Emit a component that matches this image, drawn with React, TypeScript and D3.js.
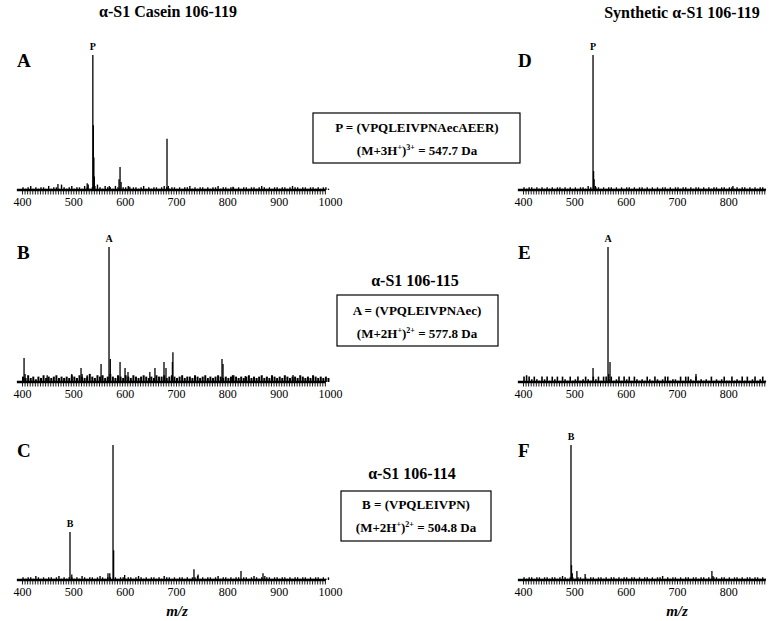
import * as d3 from 'd3'
import { useEffect, useRef } from 'react'

const W = 779
const H = 621
const SERIF = '"Liberation Serif", "Times New Roman", serif'

// peaks: [m/z, % of tallest peak in the panel]
const peaksA: [number, number][] = [
  [538, 100], [539, 48], [540, 24], [541, 10], [470, 4.4], [527, 5], [529, 4],
  [570, 3], [589, 8], [591, 17], [593, 6], [610, 2.5], [682.5, 38], [685, 3], [811, 2.5],
]
const peaksB: [number, number][] = [
  [569.5, 100], [572, 17], [404, 17.8], [406, 6], [449, 5], [497, 6], [515, 10.4],
  [517, 6], [527, 5], [554, 13.3], [591, 14.8], [600.7, 10.4], [606.5, 7.4], [649, 7.4],
  [659, 10.4], [676.6, 14.8], [680.5, 10.4], [693, 14.8], [694, 22], [789.6, 17],
  [791.6, 13.3], [810, 5], [835, 4.5], [928, 5.2],
]
const peaksC: [number, number][] = [
  [577.3, 100], [578.5, 22], [493.5, 35.5], [497, 4], [567.5, 5], [571, 5], [600, 3.7],
  [735, 8], [743, 4], [826.6, 6.7], [869.5, 5], [873, 3],
]
const peaksD: [number, number][] = [
  [536.4, 100], [537.5, 14], [538.5, 8], [541, 3], [809, 3],
]
const peaksE: [number, number][] = [
  [565.6, 100], [567, 6], [569.5, 14.8], [536.4, 10.4], [737, 6],
]
const peaksF: [number, number][] = [
  [493.5, 100], [494.5, 11], [496, 5], [505, 6.7], [521, 4.5], [768, 6.7], [770, 3],
]

// baseline noise, one value every 5 m/z from 400
const noiseA = [
  2, 1, 2, 3, 1, 2, 1, 2, 2, 1, 3, 1, 2, 2, 1, 4, 2, 1, 2, 3, 1, 2, 2, 1, 3, 2, 1, 2, 3, 4,
  2, 1, 3, 2, 2, 1, 3, 2, 1, 2, 2, 3, 1, 2, 2, 1, 2, 3, 1, 2, 1, 2, 2, 1, 2, 3, 2, 1, 2, 2,
  1, 2, 1, 2, 2, 3, 1, 2, 1, 2, 2, 1, 2, 1, 2, 2, 3, 1, 2, 2, 1, 2, 2, 1, 2, 1, 2, 2, 1, 2,
  2, 1, 2, 3, 2, 1, 2, 1, 2, 2, 1, 2, 2, 1, 2, 3, 2, 2, 1, 2, 2, 1, 2, 2, 1, 2, 1, 2, 2, 1,
]
const noiseB = [
  4, 3, 5, 3, 4, 2, 4, 3, 5, 3, 4, 3, 4, 5, 3, 4, 3, 4, 3, 5, 4, 3, 5, 4, 3, 4, 6, 4, 3, 5,
  4, 5, 3, 4, 6, 4, 3, 5, 4, 3, 5, 4, 3, 5, 4, 3, 4, 5, 4, 3, 4, 3, 5, 4, 4, 5, 3, 4, 5, 4,
  3, 4, 5, 3, 4, 4, 3, 5, 4, 3, 4, 5, 3, 4, 3, 4, 5, 4, 3, 4, 3, 4, 5, 4, 3, 4, 3, 4, 5, 3,
  4, 3, 4, 5, 3, 4, 3, 5, 4, 3, 4, 3, 5, 4, 3, 4, 4, 3, 5, 4, 3, 4, 3, 5, 4, 3, 4, 3, 4, 3,
]
const noiseC = [
  2, 1, 2, 2, 1, 3, 2, 1, 2, 1, 2, 2, 1, 2, 3, 1, 2, 1, 2, 2, 1, 2, 1, 3, 2, 1, 2, 2, 1, 2,
  3, 2, 1, 2, 2, 1, 2, 1, 2, 2, 1, 2, 2, 1, 2, 3, 2, 1, 2, 1, 2, 2, 1, 2, 1, 3, 2, 2, 1, 2,
  1, 2, 2, 1, 2, 1, 2, 2, 3, 1, 2, 1, 2, 2, 1, 2, 3, 1, 2, 2, 1, 2, 1, 2, 2, 1, 2, 2, 1, 2,
  3, 2, 1, 2, 1, 2, 2, 1, 2, 2, 1, 2, 2, 1, 2, 1, 2, 2, 1, 2, 2, 1, 2, 1, 2, 2, 1, 2, 1, 2,
]
const noiseD = [
  2, 1, 2, 2, 1, 2, 1, 2, 1, 2, 1, 2, 1, 2, 2, 1, 2, 1, 2, 1, 2, 1, 2, 2, 1, 3, 2, 1, 2, 2,
  1, 2, 1, 2, 2, 1, 2, 1, 2, 1, 2, 2, 1, 2, 1, 2, 2, 1, 2, 1, 2, 1, 2, 1, 2, 2, 1, 2, 1, 2,
  2, 1, 2, 2, 1, 2, 1, 2, 2, 1, 2, 1, 2, 1, 2, 2, 1, 2, 2, 1, 2, 2, 1, 2, 1, 2, 2, 1, 2, 1,
  2, 1, 2, 2, 1,
]
const noiseE = [
  4, 5, 4, 2, 4, 2, 1, 4, 2, 4, 1, 4, 2, 4, 1, 4, 2, 1, 4, 1, 2, 4, 1, 2, 4, 2, 1, 4, 2, 4,
  1, 4, 4, 2, 4, 1, 2, 4, 1, 4, 2, 4, 1, 4, 2, 1, 2, 1, 4, 2, 1, 4, 2, 1, 2, 4, 4, 1, 2, 2,
  1, 4, 1, 4, 4, 2, 1, 4, 1, 2, 1, 2, 1, 4, 1, 2, 1, 2, 4, 1, 1, 4, 1, 2, 1, 4, 1, 4, 1, 2,
  4, 1, 2, 4, 1,
]
const noiseF = [
  2, 1, 2, 2, 1, 2, 2, 1, 2, 2, 1, 2, 2, 1, 2, 3, 2, 1, 2, 2, 1, 2, 2, 1, 2, 1, 2, 2, 1, 2,
  2, 1, 2, 1, 2, 2, 1, 2, 1, 2, 2, 1, 2, 2, 1, 2, 1, 2, 2, 1, 2, 1, 2, 2, 3, 1, 2, 1, 2, 2,
  1, 2, 1, 2, 2, 1, 2, 2, 1, 2, 2, 1, 2, 1, 2, 2, 1, 2, 2, 1, 2, 1, 2, 2, 1, 2, 1, 2, 2, 1,
  2, 2, 1, 2, 1,
]

const ticksLeft = [400, 500, 600, 700, 800, 900, 1000]
const ticksRight = [400, 500, 600, 700, 800]

const panels = [
  { letter: 'A', peaks: peaksA, noise: noiseA, ticks: ticksLeft, end: 992, dx: 0, base: 190, tag: 'P', nw: 1.4 },
  { letter: 'B', peaks: peaksB, noise: noiseB, ticks: ticksLeft, end: 992, dx: 0, base: 382, tag: 'A', nw: 2 },
  { letter: 'C', peaks: peaksC, noise: noiseC, ticks: ticksLeft, end: 992, dx: 0, base: 580, tag: 'B', tagMz: 493.5, nw: 1.4 },
  { letter: 'D', peaks: peaksD, noise: noiseD, ticks: ticksRight, end: 873, dx: 501, base: 190, tag: 'P', nw: 1.4 },
  { letter: 'E', peaks: peaksE, noise: noiseE, ticks: ticksRight, end: 873, dx: 501, base: 382, tag: 'A', nw: 1.6 },
  { letter: 'F', peaks: peaksF, noise: noiseF, ticks: ticksRight, end: 873, dx: 501, base: 580, tag: 'B', nw: 1.4 },
]

export default function App() {
  const ref = useRef<SVGGElement>(null)

  useEffect(() => {
    const root = d3.select(ref.current)
    root.selectAll('*').remove()

    panels.forEach(p => {
      const x = d3.scaleLinear().domain([400, 1000]).range([22 + p.dx, 330 + p.dx])
      const y = d3.scaleLinear().domain([0, 100]).range([p.base, p.base - 135])
      const g = root.append('g')

      const noise = p.noise.map((v, i) => [400 + i * 5 + 2, v] as [number, number])
      g.selectAll('line.noise')
        .data(noise)
        .join('line')
        .attr('class', 'noise')
        .attr('x1', d => x(d[0]))
        .attr('x2', d => x(d[0]))
        .attr('y1', y(0))
        .attr('y2', d => y(d[1]))
        .attr('stroke', '#000')
        .attr('stroke-width', p.nw)

      g.selectAll('line.stick')
        .data(p.peaks)
        .join('line')
        .attr('class', 'stick')
        .attr('x1', d => x(d[0]))
        .attr('x2', d => x(d[0]))
        .attr('y1', y(0))
        .attr('y2', d => y(d[1]))
        .attr('stroke', '#000')
        .attr('stroke-width', 1.3)

      // minor tick comb under the baseline
      const minor = g.append('g')
        .attr('transform', `translate(0,${p.base + 1})`)
        .call(d3.axisBottom(x).tickValues(d3.range(400, p.end, 5)).tickSize(3.5).tickFormat(() => ''))
      minor.select('.domain').remove()
      minor.selectAll('line').attr('stroke', '#000').attr('stroke-width', 0.9)

      g.append('line')
        .attr('x1', x(390)).attr('x2', x(p.end))
        .attr('y1', p.base).attr('y2', p.base)
        .attr('stroke', '#000').attr('stroke-width', 2.5)

      const labels = g.append('g')
        .attr('transform', `translate(0,${p.base})`)
        .call(d3.axisBottom(x).tickValues(p.ticks).tickSize(0).tickPadding(7).tickFormat(d3.format('d')))
      labels.select('.domain').remove()
      labels.attr('font-family', SERIF).attr('font-size', 12)
      labels.selectAll('text').attr('fill', '#000')

      // peak tag
      const main = p.tagMz != null ? p.peaks.find(d => d[0] === p.tagMz)! : p.peaks[0]
      g.append('text')
        .attr('x', x(main[0]))
        .attr('y', y(main[1]) - 5)
        .attr('text-anchor', 'middle')
        .attr('font-family', SERIF)
        .attr('font-weight', 'bold')
        .attr('font-size', 10)
        .text(p.tag)

      g.append('text')
        .attr('x', 17 + p.dx)
        .attr('y', p.base - 123)
        .attr('font-family', SERIF)
        .attr('font-weight', 'bold')
        .attr('font-size', 19)
        .text(p.letter)
    })
  }, [])

  const bold = { fontFamily: SERIF, fontWeight: 'bold' as const }
  return (
    <svg width={W} height={H} style={{ position: 'absolute', left: 0, top: 0, background: '#fff' }}>
      <g ref={ref} />
      <text x={168} y={17} textAnchor="middle" fontSize={16} {...bold}>α-S1 Casein 106-119</text>
      <text x={682} y={18} textAnchor="middle" fontSize={16} {...bold}>Synthetic α-S1 106-119</text>

      <rect x={313} y={113} width={207} height={50} fill="none" stroke="#000" strokeWidth={1.2} />
      <text x={417} y={132} textAnchor="middle" fontSize={13} {...bold}>P = (VPQLEIVPNAecAEER)</text>
      <text x={417} y={155} textAnchor="middle" fontSize={13} {...bold}>
        (M+3H<tspan dy={-5} fontSize={8}>+</tspan><tspan dy={5}>)</tspan><tspan dy={-5} fontSize={8}>3+</tspan><tspan dy={5}> = 547.7 Da</tspan>
      </text>

      <text x={415} y={286} textAnchor="middle" fontSize={16} {...bold}>α-S1 106-115</text>
      <rect x={337} y={295} width={161} height={51} fill="none" stroke="#000" strokeWidth={1.2} />
      <text x={417} y={315} textAnchor="middle" fontSize={13} {...bold}>A = (VPQLEIVPNAec)</text>
      <text x={417} y={338} textAnchor="middle" fontSize={13} {...bold}>
        (M+2H<tspan dy={-5} fontSize={8}>+</tspan><tspan dy={5}>)</tspan><tspan dy={-5} fontSize={8}>2+</tspan><tspan dy={5}> = 577.8 Da</tspan>
      </text>

      <text x={412} y={479} textAnchor="middle" fontSize={16} {...bold}>α-S1 106-114</text>
      <rect x={341} y={491} width={150} height={50} fill="none" stroke="#000" strokeWidth={1.2} />
      <text x={416} y={509} textAnchor="middle" fontSize={13} {...bold}>B = (VPQLEIVPN)</text>
      <text x={416} y={532} textAnchor="middle" fontSize={13} {...bold}>
        (M+2H<tspan dy={-5} fontSize={8}>+</tspan><tspan dy={5}>)</tspan><tspan dy={-5} fontSize={8}>2+</tspan><tspan dy={5}> = 504.8 Da</tspan>
      </text>

      <text x={177} y={616} textAnchor="middle" fontSize={15} fontStyle="italic" {...bold}>m/z</text>
      <text x={677} y={616} textAnchor="middle" fontSize={15} fontStyle="italic" {...bold}>m/z</text>
    </svg>
  )
}
